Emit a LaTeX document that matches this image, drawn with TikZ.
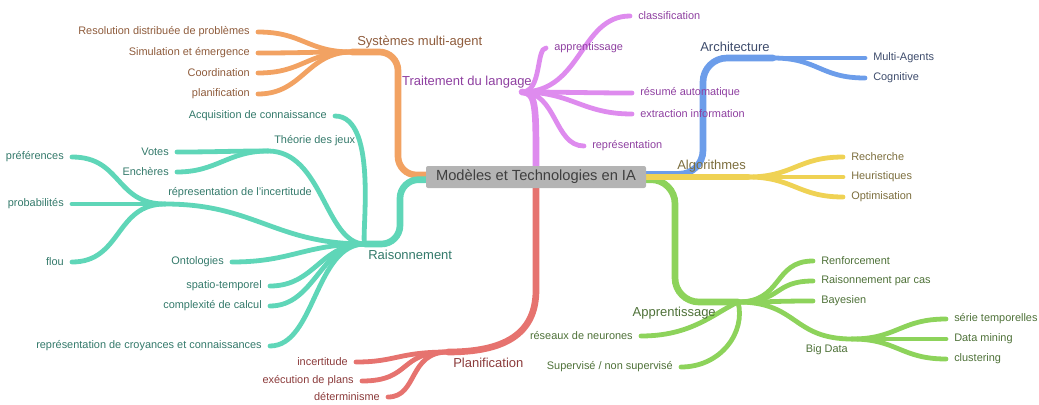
\documentclass[tikz,border=0pt]{standalone}
\usepackage{fontspec}
\setmainfont{Liberation Sans}
\usetikzlibrary{backgrounds}

% branch colours (lines) and their text colours
\definecolor{cOr}{HTML}{F2A262}
\definecolor{tOr}{HTML}{8E5B3B}
\definecolor{cTe}{HTML}{5FD6B8}
\definecolor{tTe}{HTML}{33796A}
\definecolor{cPi}{HTML}{DE8BEE}
\definecolor{tPi}{HTML}{8E3FA0}
\definecolor{cBl}{HTML}{6C9DEA}
\definecolor{tBl}{HTML}{3E4C6C}
\definecolor{cYe}{HTML}{EFD254}
\definecolor{tYe}{HTML}{7C6E3E}
\definecolor{cGr}{HTML}{8DD35B}
\definecolor{tGr}{HTML}{4E7138}
\definecolor{cRe}{HTML}{E6736F}
\definecolor{tRe}{HTML}{8B3B3B}
\definecolor{cRoot}{HTML}{B4B4B4}
\definecolor{tRoot}{HTML}{3F3F3F}

% curved link between two points, leaving and arriving horizontally
\newcommand\bra[5]{\draw[br,#1] (#2) .. controls +(#4,0) and +(#5,0) .. (#3);}

\begin{document}
\begin{tikzpicture}[x=0.75pt,y=-0.75pt,
  br/.style={line width=3.6pt,line cap=round},
  trunk/.style={line width=5pt,line cap=round},
  lf/.style={font=\fontsize{8.2}{9}\selectfont,inner sep=0pt},
  mn/.style={font=\fontsize{9.75}{11}\selectfont,inner sep=0pt},
  lleft/.style={lf,anchor=east,xshift=-6pt},
  lright/.style={lf,anchor=west,xshift=6pt},
]
\useasboundingbox (0,0) rectangle (1039,404);

% central topic
\node[fill=cRoot, minimum width=165pt, minimum height=16.5pt, rounded corners=1.5pt,
      font=\fontsize{11}{13}\selectfont, text=tRoot, inner sep=0pt]
  (root) at (536,177) {Modèles et Technologies en IA};

% ---------- hubs, corners and leaf ends ----------
% Systèmes multi-agent
\coordinate (oH) at (352,52);  \coordinate (oK) at (398,52);
\coordinate (o1) at (258,32);  \coordinate (o2) at (258,53);
\coordinate (o3) at (258,73);  \coordinate (o4) at (258,94);
% Raisonnement
\coordinate (tH) at (365,244); \coordinate (tK) at (400,244);
\coordinate (tA) at (335,116);
\coordinate (tJ) at (268,151); \coordinate (tV) at (177,152); \coordinate (tE) at (177,172);
\coordinate (tI) at (165,204);
\coordinate (tP) at (72,157);  \coordinate (tQ) at (72,204);  \coordinate (tF) at (72,262);
\coordinate (tO) at (232,262); \coordinate (tS) at (270,286);
\coordinate (tC) at (270,306); \coordinate (tR) at (270,346);
% Traitement du langage
\coordinate (pH) at (522,92);
\coordinate (pA) at (546,48);  \coordinate (pC) at (630,16);
\coordinate (pR) at (632,93);  \coordinate (pE) at (632,114); \coordinate (pP) at (584,146);
% Architecture
\coordinate (bH) at (773,58);  \coordinate (bK) at (703,58);
\coordinate (bM) at (865,58);  \coordinate (bC) at (865,78);
% Algorithmes
\coordinate (yH) at (748,177);
\coordinate (y1) at (843,157); \coordinate (y2) at (843,177); \coordinate (y3) at (843,197);
% Apprentissage
\coordinate (gH) at (738,302); \coordinate (gK) at (675,302);
\coordinate (gR) at (813,261); \coordinate (gC) at (813,281); \coordinate (gB) at (813,301);
\coordinate (gD) at (852,339);
\coordinate (g1) at (946,319); \coordinate (g2) at (946,339); \coordinate (g3) at (946,359);
\coordinate (gN) at (641,336); \coordinate (gS) at (681,367);
% Planification
\coordinate (rH) at (448,352); \coordinate (rK) at (536,290);
\coordinate (r1) at (356,362); \coordinate (r2) at (362,381); \coordinate (r3) at (388,397);

% ---------- connectors ----------
\begin{scope}[on background layer]
  % main branches
  \draw[trunk,cOr,rounded corners=14pt] ([yshift=1.5pt]root.west) -| (oK) -- (oH);
  \draw[trunk,cTe,rounded corners=14pt] ([yshift=-2pt]root.west) -| (tK) -- (tH);
  \draw[trunk,cPi] (root.north) .. controls +(0,-60) and +(14,0) .. (pH);
  \draw[trunk,cBl,rounded corners=18pt] ([yshift=2pt]root.east) -| (bK) -- (bH);
  \draw[trunk,cGr,rounded corners=18pt] ([yshift=-2pt]root.east) -| (gK) -- (gH);
  \draw[trunk,cYe] (root.east) -- (yH);
  \draw[trunk,cRe] (root.south) -- (rK) .. controls +(0,45) and +(55,0) .. (rH);

  % Systèmes multi-agent
  \bra{cOr}{oH}{o1}{-45}{45}
  \bra{cOr}{oH}{o2}{-45}{45}
  \bra{cOr}{oH}{o3}{-45}{45}
  \bra{cOr}{oH}{o4}{-45}{45}

  % Raisonnement
  \bra{cTe}{tH}{tA}{-5}{45}
  \bra{cTe}{tH}{tJ}{-40}{55}
  \bra{cTe}{tJ}{tV}{-40}{40}
  \bra{cTe}{tJ}{tE}{-40}{40}
  \bra{cTe}{tH}{tI}{-90}{90}
  \bra{cTe}{tI}{tP}{-50}{50}
  \bra{cTe}{tI}{tQ}{-50}{50}
  \bra{cTe}{tI}{tF}{-50}{50}
  \bra{cTe}{tH}{tO}{-60}{60}
  \bra{cTe}{tH}{tS}{-45}{45}
  \bra{cTe}{tH}{tC}{-45}{45}
  \bra{cTe}{tH}{tR}{-50}{45}

  % Traitement du langage
  \bra{cPi}{pH}{pA}{20}{-10}
  \bra{cPi}{pH}{pC}{60}{-50}
  \bra{cPi}{pH}{pR}{40}{-40}
  \bra{cPi}{pH}{pE}{50}{-50}
  \bra{cPi}{pH}{pP}{35}{-30}

  % Architecture
  \bra{cBl}{bH}{bM}{30}{-30}
  \bra{cBl}{bH}{bC}{45}{-45}

  % Algorithmes
  \bra{cYe}{yH}{y1}{45}{-45}
  \bra{cYe}{yH}{y2}{45}{-45}
  \bra{cYe}{yH}{y3}{45}{-45}

  % Apprentissage
  \bra{cGr}{gH}{gR}{45}{-40}
  \bra{cGr}{gH}{gC}{45}{-40}
  \bra{cGr}{gH}{gB}{40}{-40}
  \bra{cGr}{gH}{gD}{60}{-60}
  \bra{cGr}{gD}{g1}{45}{-45}
  \bra{cGr}{gD}{g2}{45}{-45}
  \bra{cGr}{gD}{g3}{45}{-45}
  \draw[br,cGr] (gH) .. controls +(-25,12) and +(50,0) .. (gN);
  \draw[br,cGr] (gH) .. controls +(8,30) and +(40,0) .. (gS);

  % Planification
  \bra{cRe}{rH}{r1}{-50}{40}
  \bra{cRe}{rH}{r2}{-50}{50}
  \bra{cRe}{rH}{r3}{-40}{30}
\end{scope}

% ---------- branch titles ----------
\node[mn,text=tOr,anchor=west] (nOr) at (357,42)  {Systèmes multi-agent};
\node[mn,text=tTe,anchor=west] (nTe) at (368,255) {Raisonnement};
\node[mn,text=tPi,anchor=east] (nPi) at (532,82)  {Traitement du langage};
\node[mn,text=tBl,anchor=west] (nBl) at (700,47)  {Architecture};
\node[mn,text=tYe,anchor=west] (nYe) at (677,166) {Algorithmes};
\node[mn,text=tGr,anchor=east] (nGr) at (716,313) {Apprentissage};
\node[mn,text=tRe,anchor=west] (nRe) at (453,363) {Planification};

% ---------- leaf labels ----------
\node[lleft,text=tOr] (Lo1) at (o1) {Resolution distribuée de problèmes};
\node[lleft,text=tOr] (Lo2) at (o2) {Simulation et émergence};
\node[lleft,text=tOr] (Lo3) at (o3) {Coordination};
\node[lleft,text=tOr] (Lo4) at (o4) {planification};

\node[lleft,text=tTe] (LtA) at (tA) {Acquisition de connaissance};
\node[lf,text=tTe,anchor=west] (LtJ) at (274,141) {Théorie des jeux};
\node[lleft,text=tTe] (LtV) at (tV) {Votes};
\node[lleft,text=tTe] (LtE) at (tE) {Enchères};
\node[lf,text=tTe,anchor=west] (LtI) at (168,193) {répresentation de l'incertitude};
\node[lleft,text=tTe] (LtP) at (tP) {préférences};
\node[lleft,text=tTe] (LtQ) at (tQ) {probabilités};
\node[lleft,text=tTe] (LtF) at (tF) {flou};
\node[lleft,text=tTe] (LtO) at (tO) {Ontologies};
\node[lleft,text=tTe] (LtS) at (tS) {spatio-temporel};
\node[lleft,text=tTe] (LtC) at (tC) {complexité de calcul};
\node[lleft,text=tTe] (LtR) at (tR) {représentation de croyances et connaissances};

\node[lright,text=tPi] (LpA) at (pA) {apprentissage};
\node[lright,text=tPi] (LpC) at (pC) {classification};
\node[lright,text=tPi] (LpR) at (pR) {résumé automatique};
\node[lright,text=tPi] (LpE) at (pE) {extraction information};
\node[lright,text=tPi] (LpP) at (pP) {représentation};

\node[lright,text=tBl] (LbM) at (bM) {Multi-Agents};
\node[lright,text=tBl] (LbC) at (bC) {Cognitive};

\node[lright,text=tYe] (Ly1) at (y1) {Recherche};
\node[lright,text=tYe] (Ly2) at (y2) {Heuristiques};
\node[lright,text=tYe] (Ly3) at (y3) {Optimisation};

\node[lright,text=tGr] (LgR) at (gR) {Renforcement};
\node[lright,text=tGr] (LgC) at (gC) {Raisonnement par cas};
\node[lright,text=tGr] (LgB) at (gB) {Bayesien};
\node[lf,text=tGr,anchor=east] (LgD) at (848,350) {Big Data};
\node[lright,text=tGr] (Lg1) at (g1) {série temporelles};
\node[lright,text=tGr] (Lg2) at (g2) {Data mining};
\node[lright,text=tGr] (Lg3) at (g3) {clustering};
\node[lleft,text=tGr] (LgN) at (gN) {réseaux de neurones};
\node[lleft,text=tGr] (LgS) at (gS) {Supervisé / non supervisé};

\node[lleft,text=tRe] (Lr1) at (r1) {incertitude};
\node[lleft,text=tRe] (Lr2) at (r2) {exécution de plans};
\node[lleft,text=tRe] (Lr3) at (r3) {déterminisme};
\end{tikzpicture}
\end{document}
